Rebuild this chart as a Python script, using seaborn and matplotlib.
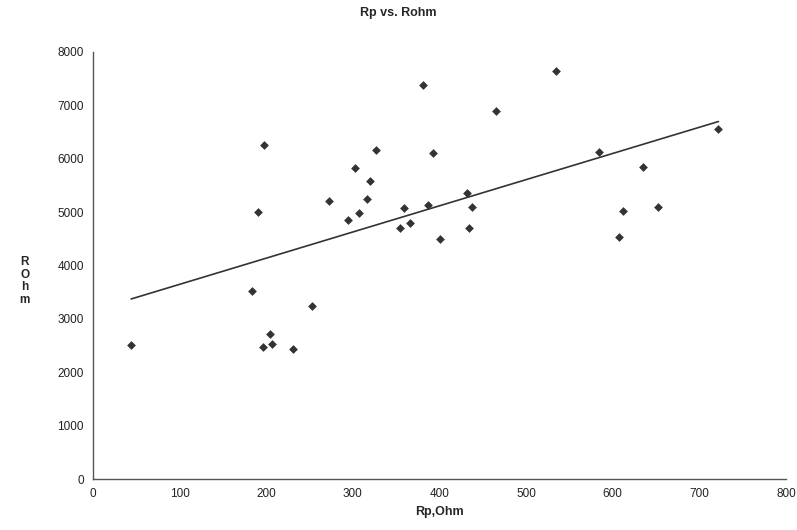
import numpy as np
import pandas as pd
import matplotlib
matplotlib.use("Agg")
import matplotlib.pyplot as plt
import seaborn as sns

# Valores (Rp em Ohm, R em Ohm)
rp = [44, 183, 190, 197, 196, 204, 207, 231, 253, 273, 294, 303, 307, 316,
      320, 327, 354, 359, 366, 381, 387, 392, 400, 432, 434, 438, 465, 534,
      584, 607, 612, 635, 652, 722]
rohm = [2510, 3520, 5000, 6260, 2470, 2710, 2530, 2430, 3240, 5210, 4860,
        5830, 4980, 5240, 5580, 6170, 4710, 5080, 4790, 7380, 5130, 6100,
        4490, 5360, 4710, 5100, 6900, 7640, 6130, 4540, 5020, 5850, 5100,
        6550]

x_ticks = [0, 100, 200, 300, 400, 500, 600, 700, 800]
y_ticks = [0, 1000, 2000, 3000, 4000, 5000, 6000, 7000, 8000]

df = pd.DataFrame({"Rp": rp, "Rohm": rohm})

sns.set_style("white")
plt.rcParams["font.family"] = ["Liberation Sans", "DejaVu Sans"]

fig = plt.figure(figsize=(7.97, 5.30), dpi=100)
ax = fig.add_axes([0.1167, 0.0962, 0.8695, 0.8057])

sns.regplot(data=df, x="Rp", y="Rohm", ax=ax, ci=None, truncate=True,
            marker="D",
            scatter_kws={"s": 20, "color": "black", "linewidths": 0},
            line_kws={"color": "#333333", "linewidth": 1.2})

ax.set_xlim(0, 800)
ax.set_ylim(0, 8000)
ax.set_xticks(x_ticks)
ax.set_yticks(y_ticks)
ax.tick_params(direction="inout", length=6, width=0.8, labelsize=8.5,
               colors="#222222")
for s in ["top", "right"]:
    ax.spines[s].set_visible(False)
for s in ["left", "bottom"]:
    ax.spines[s].set_color("#555555")
    ax.spines[s].set_linewidth(1.0)

ax.set_xlabel("Rp,Ohm", fontsize=9, fontweight="bold", labelpad=4)
ax.set_ylabel("")
fig.text(0.031, 0.47, "R\nO\nh\nm", fontsize=8.5, fontweight="bold",
         ha="center", va="center", linespacing=1.05)
fig.text(0.5, 0.975, "Rp vs. Rohm", fontsize=9, fontweight="bold",
         ha="center", va="center")

fig.savefig("out.png", dpi=100)
